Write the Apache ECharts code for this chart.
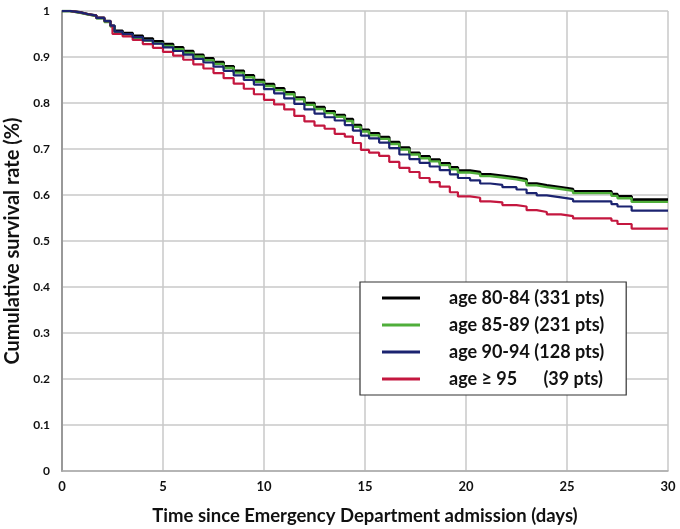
<!DOCTYPE html>
<html>
<head>
<meta charset="utf-8">
<script src="https://cdn.jsdelivr.net/npm/echarts@6/dist/echarts.min.js"></script>
<style>
html,body{margin:0;padding:0;background:#fff;}
#chart{width:680px;height:529px;}
</style>
</head>
<body>
<div id="chart"></div>
<script>
var seriesNames = ['age 80-84 (331 pts)', 'age 85-89 (231 pts)', 'age 90-94 (128 pts)', 'age \u2265 95      (39 pts)'];
var seriesColors = ['#000000', '#4fae3a', '#1b2370', '#c4173f'];
var xTicks = [0, 5, 10, 15, 20, 25, 30];
var yTicks = [0, 0.1, 0.2, 0.3, 0.4, 0.5, 0.6, 0.7, 0.8, 0.9, 1];

var times80 = [0, 0.4, 0.9, 1.3, 1.7, 2.1, 2.4, 2.6, 3.0, 3.5, 4.0, 4.5, 5.0, 5.5, 6.0, 6.5, 7.0, 7.5, 8.0, 8.5, 9.0, 9.5, 10.0, 10.5, 11.0, 11.5, 12.0, 12.5, 13.0, 13.5, 14.0, 14.4, 14.8, 15.2, 15.7, 16.2, 16.7, 17.2, 17.7, 18.2, 18.7, 19.2, 19.6, 20.2, 20.7, 21.2, 21.8, 22.5, 23.0, 23.5, 24.0, 24.7, 25.3, 27.2, 27.5, 28.2, 30];
var surv80 = [1.000, 0.997, 0.993, 0.990, 0.985, 0.978, 0.968, 0.957, 0.952, 0.946, 0.940, 0.934, 0.928, 0.921, 0.913, 0.905, 0.897, 0.889, 0.880, 0.870, 0.860, 0.850, 0.841, 0.832, 0.823, 0.812, 0.800, 0.791, 0.782, 0.774, 0.765, 0.752, 0.742, 0.734, 0.726, 0.715, 0.703, 0.692, 0.684, 0.677, 0.669, 0.660, 0.653, 0.650, 0.645, 0.642, 0.638, 0.634, 0.625, 0.621, 0.617, 0.613, 0.608, 0.602, 0.597, 0.590, 0.590];

var times85 = [0, 0.4, 0.9, 1.3, 1.7, 2.1, 2.4, 2.6, 3.0, 3.5, 4.0, 4.5, 5.0, 5.5, 6.0, 6.5, 7.0, 7.5, 8.0, 8.5, 9.0, 9.5, 10.0, 10.5, 11.0, 11.5, 12.0, 12.5, 13.0, 13.5, 14.0, 14.4, 14.8, 15.2, 15.7, 16.2, 16.7, 17.2, 17.7, 18.2, 18.7, 19.2, 19.6, 20.2, 20.7, 21.2, 21.8, 22.5, 23.0, 23.5, 24.0, 24.7, 25.3, 27.2, 27.5, 28.2, 30];
var surv85 = [1.000, 0.996, 0.992, 0.989, 0.984, 0.976, 0.966, 0.954, 0.949, 0.942, 0.936, 0.930, 0.924, 0.917, 0.909, 0.901, 0.893, 0.885, 0.876, 0.866, 0.856, 0.846, 0.837, 0.828, 0.819, 0.808, 0.796, 0.787, 0.778, 0.770, 0.761, 0.748, 0.738, 0.730, 0.722, 0.711, 0.699, 0.688, 0.680, 0.673, 0.665, 0.656, 0.649, 0.646, 0.641, 0.638, 0.634, 0.630, 0.621, 0.617, 0.613, 0.609, 0.604, 0.598, 0.593, 0.585, 0.585];

var times90 = [0, 0.4, 0.9, 1.3, 1.7, 2.1, 2.4, 2.6, 3.0, 3.5, 4.0, 4.5, 5.0, 5.5, 6.0, 6.5, 7.0, 7.5, 8.0, 8.5, 9.0, 9.5, 10.0, 10.5, 11.0, 11.5, 12.0, 12.5, 13.0, 13.5, 14.0, 14.4, 14.8, 15.2, 15.7, 16.2, 16.7, 17.2, 17.7, 18.2, 18.7, 19.2, 19.6, 20.2, 20.7, 21.2, 21.8, 22.5, 23.0, 23.5, 24.0, 24.7, 25.3, 27.2, 27.5, 28.2, 30];
var surv90 = [1.000, 0.997, 0.993, 0.990, 0.985, 0.978, 0.968, 0.955, 0.950, 0.943, 0.936, 0.929, 0.921, 0.913, 0.905, 0.896, 0.888, 0.879, 0.870, 0.860, 0.850, 0.840, 0.830, 0.821, 0.810, 0.798, 0.786, 0.777, 0.769, 0.762, 0.752, 0.740, 0.729, 0.723, 0.714, 0.702, 0.688, 0.678, 0.670, 0.662, 0.654, 0.645, 0.637, 0.632, 0.625, 0.622, 0.617, 0.612, 0.604, 0.599, 0.595, 0.591, 0.586, 0.580, 0.575, 0.566, 0.566];

var times95 = [0, 0.4, 0.9, 1.3, 1.7, 2.1, 2.4, 2.5, 3.0, 3.5, 4.0, 4.5, 5.0, 5.5, 6.0, 6.5, 7.0, 7.5, 8.0, 8.5, 9.0, 9.5, 10.0, 10.5, 11.0, 11.5, 12.0, 12.5, 13.0, 13.5, 14.0, 14.4, 14.8, 15.2, 15.7, 16.2, 16.7, 17.2, 17.7, 18.2, 18.7, 19.2, 19.6, 20.2, 20.7, 21.2, 21.8, 22.5, 23.0, 23.5, 24.0, 24.7, 25.3, 27.2, 27.5, 28.2, 30];
var surv95 = [1.000, 0.997, 0.993, 0.990, 0.985, 0.978, 0.968, 0.950, 0.945, 0.937, 0.928, 0.920, 0.911, 0.903, 0.894, 0.884, 0.875, 0.865, 0.854, 0.842, 0.831, 0.819, 0.807, 0.797, 0.786, 0.772, 0.760, 0.751, 0.744, 0.733, 0.727, 0.713, 0.698, 0.692, 0.685, 0.672, 0.659, 0.650, 0.637, 0.628, 0.618, 0.606, 0.597, 0.594, 0.586, 0.584, 0.578, 0.575, 0.567, 0.563, 0.558, 0.554, 0.549, 0.544, 0.537, 0.527, 0.527];

var allTimes = [times80, times85, times90, times95];
var allSurv = [surv80, surv85, surv90, surv95];
var lineWidths = [2.6, 2.4, 2.2, 2.2];
var zOrder = [2, 3, 5, 4];

function pairs(t, s) {
  var out = [];
  for (var i = 0; i < t.length; i++) out.push([t[i], s[i]]);
  return out;
}

var series = seriesNames.map(function (name, i) {
  return {
    name: name,
    type: 'line',
    step: 'end',
    symbol: 'none',
    z: zOrder[i],
    data: pairs(allTimes[i], allSurv[i]),
    lineStyle: { color: seriesColors[i], width: lineWidths[i] },
    itemStyle: { color: seriesColors[i] },
    animation: false
  };
});

var chart = echarts.init(document.getElementById('chart'), null, { renderer: 'canvas' });
chart.setOption({
  backgroundColor: '#ffffff',
  animation: false,
  grid: { left: 62, right: 12, top: 11, bottom: 58, containLabel: false, outerBoundsMode: 'none' },
  legend: {
    orient: 'vertical',
    left: 360,
    top: 282,
    data: seriesNames,
    icon: 'rect',
    itemWidth: 38,
    itemHeight: 3,
    itemGap: 7,
    padding: [6, 22, 6, 22],
    borderColor: '#333333',
    borderWidth: 1.2,
    backgroundColor: '#ffffff',
    selectedMode: false,
    textStyle: {
      fontFamily: 'Lato',
      fontWeight: 'bold',
      fontSize: 18,
      color: '#111111',
      lineHeight: 20,
      padding: [0, 0, 0, 24]
    }
  },
  xAxis: {
    type: 'value',
    min: 0,
    max: 30,
    interval: 5,
    name: 'Time since Emergency Department admission (days)',
    nameLocation: 'middle',
    nameGap: 36,
    nameTextStyle: { fontFamily: 'Lato', fontWeight: 'bold', fontSize: 18.5, color: '#111111' },
    axisLine: { show: true, lineStyle: { color: '#aaaaaa', width: 1.5 } },
    axisTick: { show: false },
    axisLabel: {
      margin: 9,
      fontFamily: 'Lato',
      fontWeight: 'bold',
      fontSize: 13,
      color: '#111111',
      formatter: function (v) { return xTicks.indexOf(v) >= 0 ? String(v) : ''; }
    },
    splitLine: { show: true, lineStyle: { color: '#c8c8c8', width: 1.5 } }
  },
  yAxis: {
    type: 'value',
    min: 0,
    max: 1,
    interval: 0.1,
    name: 'Cumulative survival rate (%)',
    nameLocation: 'middle',
    nameGap: 38,
    nameTextStyle: { fontFamily: 'Lato', fontWeight: 'bold', fontSize: 20, color: '#111111' },
    axisLine: { show: true, lineStyle: { color: '#999999', width: 2 } },
    axisTick: { show: false },
    axisLabel: {
      margin: 12,
      fontFamily: 'Lato',
      fontWeight: 'bold',
      fontSize: 12,
      color: '#111111',
      formatter: function (v) { return String(Math.round(v * 10) / 10); }
    },
    splitLine: { show: true, lineStyle: { color: '#c8c8c8', width: 1.5 } }
  },
  series: series
});
</script>
</body>
</html>
